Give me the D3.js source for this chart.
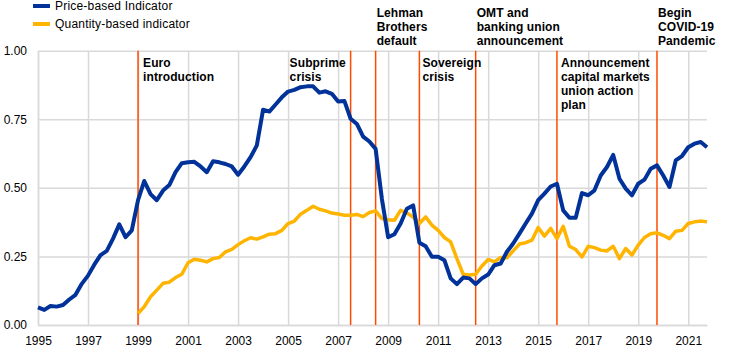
<!DOCTYPE html>
<html>
<head>
<meta charset="utf-8">
<script src="https://cdn.jsdelivr.net/npm/d3@7"></script>
<style>
  body { margin: 0; background: #fff; }
  text { font-family: Arial, "Liberation Sans", sans-serif; }
</style>
</head>
<body>
<div id="container"></div>
<script>
// quarterly series, first value = Q1 of the start year
var priceStart = 1995;
var priceValues = [
  0.064, 0.055, 0.069, 0.067,
  0.073, 0.093, 0.110, 0.150,
  0.180, 0.220, 0.255, 0.270,
  0.315, 0.367, 0.320, 0.345,
  0.455, 0.525, 0.477, 0.455,
  0.490, 0.510, 0.557, 0.590,
  0.593, 0.595, 0.578, 0.557,
  0.597, 0.593, 0.587, 0.578,
  0.548, 0.578, 0.612, 0.655,
  0.785, 0.778, 0.804, 0.830,
  0.851, 0.857, 0.867, 0.870,
  0.870, 0.847, 0.852, 0.843,
  0.815, 0.817, 0.752, 0.733,
  0.687, 0.669, 0.642, 0.460,
  0.320, 0.331, 0.370, 0.424,
  0.436, 0.300, 0.287, 0.249,
  0.249, 0.236, 0.170, 0.149,
  0.173, 0.170, 0.149, 0.170,
  0.184, 0.218, 0.224, 0.267,
  0.297, 0.333, 0.370, 0.406,
  0.455, 0.479, 0.505, 0.515,
  0.418, 0.391, 0.391, 0.481,
  0.473, 0.491, 0.545, 0.576,
  0.620, 0.533, 0.497, 0.473,
  0.515, 0.530, 0.570, 0.582,
  0.545, 0.503, 0.600, 0.616,
  0.648, 0.661, 0.667, 0.648
];

var quantityStart = 1999;
var quantityValues = [
  0.042, 0.067, 0.103, 0.127,
  0.152, 0.156, 0.173, 0.185,
  0.227, 0.240, 0.236, 0.230,
  0.242, 0.246, 0.267, 0.276,
  0.293, 0.307, 0.318, 0.313,
  0.321, 0.331, 0.333, 0.345,
  0.370, 0.379, 0.404, 0.418,
  0.433, 0.422, 0.416, 0.408,
  0.405, 0.400, 0.400, 0.403,
  0.395, 0.410, 0.416, 0.388,
  0.384, 0.382, 0.418, 0.408,
  0.394, 0.370, 0.394, 0.364,
  0.345, 0.319, 0.303, 0.242,
  0.185, 0.182, 0.185, 0.215,
  0.239, 0.230, 0.246, 0.245,
  0.270, 0.295, 0.300, 0.309,
  0.355, 0.324, 0.352, 0.315,
  0.360, 0.287, 0.275, 0.248,
  0.287, 0.282, 0.273, 0.270,
  0.287, 0.242, 0.279, 0.255,
  0.291, 0.319, 0.333, 0.336,
  0.327, 0.315, 0.342, 0.345,
  0.370, 0.376, 0.379, 0.376
];

var seriesNames = ["Price-based Indicator", "Quantity-based indicator"];
var yearTicks = [1995, 1997, 1999, 2001, 2003, 2005, 2007, 2009, 2011, 2013, 2015, 2017, 2019, 2021];
var valueTicks = [0, 0.25, 0.5, 0.75, 1];

// events (decimal year) and their labels
var eventDates = [1999.0, 2007.5, 2008.5, 2010.25, 2012.5, 2015.75, 2019.75];
var eventLabels = [
  ["Euro", "introduction"],
  ["Subprime", "crisis"],
  ["Lehman", "Brothers", "default"],
  ["Sovereign", "crisis"],
  ["OMT and", "banking union", "announcement"],
  ["Announcement", "capital markets", "union action", "plan"],
  ["Begin", "COVID-19", "Pandemic"]
];

var W = 744, H = 353;
var margin = {top: 50.7, right: 37, bottom: 28, left: 38};
var width = W - margin.left - margin.right,
    height = H - margin.top - margin.bottom;

var blue = "#003299", yellow = "#ffb400", red = "#ff4b00", grid = "#d9d9d9";

function toSeries(start, vals) {
  return vals.map(function(v, i) { return {t: start + i / 4, v: v}; });
}
var priceData = toSeries(priceStart, priceValues);
var quantityData = toSeries(quantityStart, quantityValues);

var svg = d3.select("#container").append("svg")
  .attr("width", W)
  .attr("height", H);

var g = svg.append("g")
  .attr("transform", "translate(" + margin.left + "," + margin.top + ")");

var x = d3.scaleLinear().domain([1995, 2021.75]).range([0, width]);
var y = d3.scaleLinear().domain([0, 1]).range([height, 0]);

// axes with gridlines
var xAxis = d3.axisBottom(x).tickValues(yearTicks).tickFormat(d3.format("d"))
  .tickSizeInner(-height).tickSizeOuter(0).tickPadding(11);
var yAxis = d3.axisLeft(y).tickValues(valueTicks).tickFormat(d3.format(".2f"))
  .tickSizeInner(-width).tickSizeOuter(0).tickPadding(11);

var gy = g.append("g").attr("class", "y axis").call(yAxis);
var gx = g.append("g").attr("class", "x axis")
  .attr("transform", "translate(0," + height + ")").call(xAxis);

[gx, gy].forEach(function(a) {
  a.select(".domain").attr("stroke", grid).attr("stroke-width", 1.5);
  a.selectAll(".tick line").attr("stroke", grid).attr("stroke-width", 1.5);
  a.selectAll(".tick text").attr("fill", "#000").style("font-size", "12px");
});

// event lines
g.selectAll(".event")
  .data(eventDates).enter()
  .append("line")
    .attr("class", "event")
    .attr("x1", function(d) { return x(d); })
    .attr("x2", function(d) { return x(d); })
    .attr("y1", 0)
    .attr("y2", height)
    .attr("stroke", red)
    .attr("stroke-width", 1.5);

// series lines
var line = d3.line()
  .x(function(d) { return x(d.t); })
  .y(function(d) { return y(d.v); });

g.append("path").datum(quantityData)
  .attr("fill", "none").attr("stroke", yellow)
  .attr("stroke-width", 3.5).attr("stroke-linejoin", "round")
  .attr("d", line);

g.append("path").datum(priceData)
  .attr("fill", "none").attr("stroke", blue)
  .attr("stroke-width", 4).attr("stroke-linejoin", "round")
  .attr("d", line);

// event labels: above the plot or inside it
var labelAbove = [false, false, true, false, true, false, true];
var labelDx = [5, -61, 1, 3, 1, 4, 1];
var lineH = 14;

eventLabels.forEach(function(lines, i) {
  var x0 = x(eventDates[i]) + labelDx[i];
  var y0 = labelAbove[i] ? -5.5 - (lines.length - 1) * lineH : 16;
  var t = g.append("text")
    .attr("x", x0)
    .attr("y", y0)
    .style("font-size", "12px")
    .style("font-weight", "bold")
    .style("letter-spacing", "0.1px")
    .attr("fill", "#000");
  lines.forEach(function(s, j) {
    t.append("tspan").attr("x", x0).attr("y", y0 + j * lineH).text(s);
  });
});

// legend
var legend = svg.selectAll(".legend")
  .data(seriesNames).enter()
  .append("g")
    .attr("class", "legend")
    .attr("transform", function(d, i) { return "translate(33," + (6 + i * 18) + ")"; });

legend.append("line")
  .attr("x1", 0).attr("x2", 17)
  .attr("stroke", function(d, i) { return i === 0 ? blue : yellow; })
  .attr("stroke-width", 4);

legend.append("text")
  .attr("x", 22)
  .attr("dy", "0.35em")
  .style("font-size", "12px")
  .style("letter-spacing", "0.2px")
  .attr("fill", "#000")
  .text(function(d) { return d; });
</script>
</body>
</html>
